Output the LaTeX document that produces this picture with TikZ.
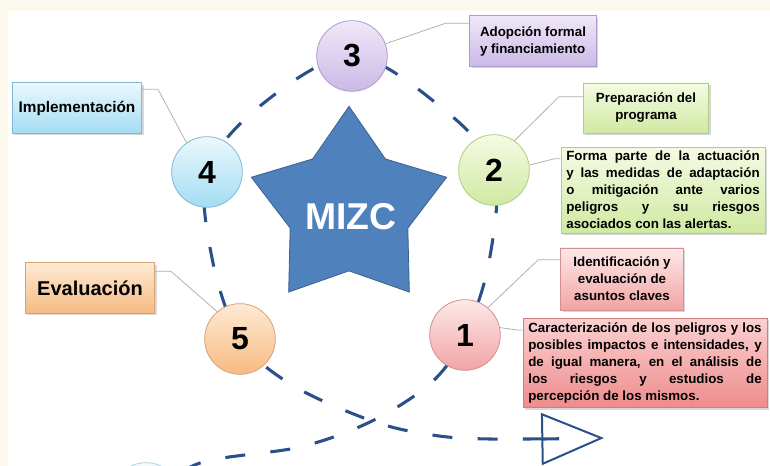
\documentclass[tikz,border=0pt]{standalone}
\usepackage{fontspec}
\setmainfont{Liberation Sans}
\usepackage{tikz}
\usetikzlibrary{shapes.geometric}
\usetikzlibrary{shadows}
\usetikzlibrary{arrows.meta}
\usetikzlibrary{calc}

\definecolor{creambg}{RGB}{254,249,239}
\definecolor{loopblue}{RGB}{42,80,138}
\definecolor{starblue}{RGB}{79,129,189}
\definecolor{starline}{RGB}{60,96,142}
\definecolor{leadgray}{RGB}{178,178,178}
% circle and box tints
\definecolor{liltop}{RGB}{240,232,249}
\definecolor{lilbot}{RGB}{203,185,230}
\definecolor{lilline}{RGB}{172,156,204}
\definecolor{limetop}{RGB}{245,251,228}
\definecolor{limebot}{RGB}{208,233,162}
\definecolor{limeline}{RGB}{176,204,134}
\definecolor{skytop}{RGB}{234,248,253}
\definecolor{skybot}{RGB}{164,220,242}
\definecolor{skyline}{RGB}{128,184,214}
\definecolor{peachtop}{RGB}{254,234,212}
\definecolor{peachbot}{RGB}{246,186,130}
\definecolor{peachline}{RGB}{214,164,116}
\definecolor{rosetop}{RGB}{254,232,232}
\definecolor{rosebot}{RGB}{241,164,164}
\definecolor{roseline}{RGB}{210,144,144}
\definecolor{redtop}{RGB}{251,208,208}
\definecolor{redbot}{RGB}{238,140,140}
\definecolor{redline}{RGB}{204,128,128}

\begin{document}
\begin{tikzpicture}[x=0.75pt,y=0.75pt,yscale=-1,xscale=1,
  stage/.style={circle, draw=#1line, line width=0.6pt, top color=#1top, bottom color=#1bot,
    minimum size=53pt, inner sep=0pt, font=\fontsize{24}{24}\selectfont\bfseries},
  note/.style={rectangle, draw=#1line, line width=0.5pt, top color=#1top, bottom color=#1bot,
    inner xsep=4pt, inner ysep=3pt, font=\fontsize{10}{12.75}\selectfont\bfseries,
    drop shadow={shadow xshift=1.5pt, shadow yshift=-1.5pt, opacity=0.3}},
  lead/.style={draw=leadgray, line width=0.6pt},
  route/.style={draw=loopblue, line width=2.3pt, dash pattern=on 15pt off 19pt}
]
\useasboundingbox (0,0) rectangle (770,466);
% background
\fill[creambg] (0,0) rectangle (770,466);
\fill[white] (8,11) rectangle (770,466);

% stage centres and loop points
\coordinate (c0) at (146,498);
\coordinate (c1) at (465,335);
\coordinate (c2) at (494,170);
\coordinate (c3) at (352,56);
\coordinate (c4) at (207,172);
\coordinate (c5) at (240,339);
\coordinate (s1) at (200,463);
\coordinate (s2) at (300,447);
\coordinate (cx) at (372,421);
\coordinate (s3) at (432,382);
\coordinate (s4) at (489,262);
\coordinate (s5) at (442,108);
\coordinate (s6) at (260,106);
\coordinate (s7) at (212,258);
\coordinate (s8) at (292,385);
\coordinate (s9) at (432,435);
\coordinate (s10) at (490,439);
\coordinate (tip) at (604,438);

%Dashed loop
\draw[route, -{Triangle[open, length=47pt, width=39pt, line width=1.5pt]}]
  plot[smooth, tension=0.55] coordinates {(c0) (s1) (s2) (cx) (s3) (c1) (s4) (c2) (s5)
  (c3) (s6) (c4) (s7) (c5) (s8) (cx) (s9) (s10) (tip)};

%Shape: Star
\node[star, star points=5, star point ratio=1.66, minimum size=154pt, inner sep=0pt,
  fill=starblue, draw=starline, line width=0.6pt] (star) at (349,209) {};
\node[text=white, font=\fontsize{28}{28}\selectfont\bfseries] (mizc) at ($(star.center)+(2,8)$) {MIZC};

%Shape: Circles
\node[stage=sky, opacity=0.6] (n0) at (c0) {};
\node[stage=rose] (n1) at (c1) {1};
\node[stage=lime] (n2) at (c2) {2};
\node[stage=lil] (n3) at (c3) {3};
\node[stage=sky] (n4) at (c4) {4};
\node[stage=peach] (n5) at (c5) {5};

% Text Node
\node[note=lil, minimum width=95pt, minimum height=38pt, align=left] (adop) at (533,41)
  {Adopción formal\\y financiamiento};
% Text Node
\node[note=lime, minimum width=94pt, minimum height=37.5pt, align=center] (prep) at (646,108)
  {Preparación del\\programa};
% Text Node
\node[note=lime, text width=145pt, minimum height=64pt, align=justify] (forma) at (663,190)
  {Forma parte de la actuación\linebreak y las medidas de adaptación\linebreak
   o mitigación ante varios\linebreak peligros y su riesgos\linebreak
   asociados con las alertas.};
% Text Node
\node[note=rose, minimum width=92pt, minimum height=46.5pt, align=center] (ident) at (622,279)
  {Identificación y\\evaluación de\\asuntos claves};
% Text Node
\node[note=red, text width=175pt, minimum height=67pt, align=justify] (carac) at (645,363)
  {Caracterización de los peligros y los\linebreak posibles impactos e intensidades, y\linebreak
   de igual manera, en el análisis de\linebreak los riesgos y estudios de\linebreak
   percepción de los mismos.};
% Text Node
\node[note=sky, minimum width=97pt, minimum height=38pt,
  font=\fontsize{11.5}{13}\selectfont\bfseries] (impl) at (77,108) {Implementación};
% Text Node
\node[note=peach, minimum width=97pt, minimum height=38pt,
  font=\fontsize{15}{17}\selectfont\bfseries] (eval) at (90,288) {Evaluación};

%Straight Lines
\draw[lead] (n3.20) -- ($(adop.north west)+(-24,8)$) -- ($(adop.north west)+(0,8)$);
\draw[lead] (n2.55) -- ($(prep.north west)+(-24,14)$) -- ($(prep.north west)+(0,14)$);
\draw[lead] (n2.8) -- ($(forma.north west)+(-6,12)$) -- ($(forma.north west)+(0,12)$);
\draw[lead] (n1.50) -- ($(ident.north west)+(-22,12)$) -- ($(ident.north west)+(0,12)$);
\draw[lead] (n1.12) -- ($(carac.north west)+(-6,12)$) -- ($(carac.north west)+(0,12)$);
\draw[lead] (n4.125) -- ($(impl.north east)+(16,7)$) -- ($(impl.north east)+(0,7)$);
\draw[lead] (n5.130) -- ($(eval.north east)+(16,9)$) -- ($(eval.north east)+(0,9)$);

\end{tikzpicture}
\end{document}
